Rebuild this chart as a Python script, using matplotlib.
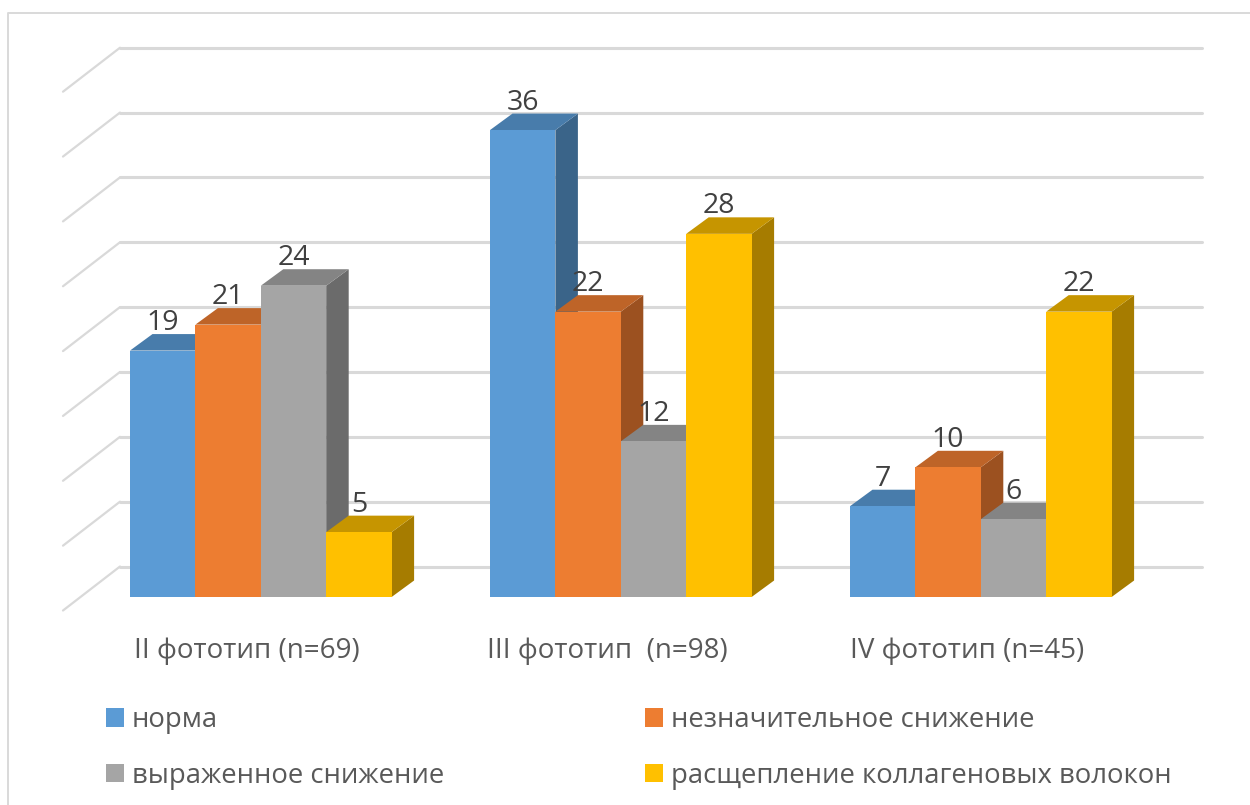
import matplotlib
matplotlib.use("Agg")
import matplotlib.pyplot as plt
from matplotlib.patches import Patch

plt.rcParams["font.family"] = ["Open Sans", "DejaVu Sans"]

# Data
categories = ["II фототип (n=69)", "III фототип  (n=98)", "IV фототип (n=45)"]
series = ["норма", "незначительное снижение", "выраженное снижение", "расщепление коллагеновых волокон"]
norma = [19, 36, 7]
neznach = [21, 22, 10]
vyrazh = [24, 12, 6]
rasshch = [5, 28, 22]
grid_values = [0, 5, 10, 15, 20, 25, 30, 35, 40]

colors_front = ["#5B9BD5", "#ED7D31", "#A5A5A5", "#FFC000"]
colors_top = ["#487CAB", "#BE6428", "#848484", "#C69500"]
colors_side = ["#3A6489", "#9C5120", "#6B6B6B", "#A67C00"]

W, H = 1250, 805
PX = 12.97  # pixels for one unit
BASE = 597  # pixel row of value 0, front of the bars

fig = plt.figure(figsize=(W / 100, H / 100), dpi=100)
ax = fig.add_axes([0, 0, 1, 1])
ax.set_xlim(0, W)
ax.set_ylim((BASE - H) / PX, BASE / PX)
ax.axis("off")

# frame, only left and top
top = (BASE - 13) / PX
ax.plot([8, 8, W], [-16.1, top, top], color="#d9d9d9", lw=1.4, zorder=1)

# walls: pseudo 3D gridlines
back_up = 30.5 / PX
front_down = 13.5 / PX
for g in grid_values:
    ax.plot([63, 120], [g - front_down, g + back_up], color="#d9d9d9", lw=1.6, solid_capstyle="round", zorder=2)
    ax.plot([120, 1202], [g + back_up, g + back_up], color="#d9d9d9", lw=2.2, solid_capstyle="round", zorder=2)

# bars
bar_w = 65.4
start = [130, 490, 850]
dx, dy = 22.5, 16.5 / PX
all_series = [norma, neznach, vyrazh, rasshch]
z = 3
for i, x0 in enumerate(start):
    for j, vals in enumerate(all_series):
        v = vals[i]
        l = x0 + j * bar_w
        r = l + bar_w
        ax.fill([r, r + dx, r + dx, r], [0, dy, v + dy, v], color=colors_side[j], lw=0, zorder=z)
        ax.fill([l, l + dx, r + dx, r], [v, v + dy, v + dy, v], color=colors_top[j], lw=0, zorder=z)
        ax.bar(l, v, width=bar_w, align="edge", color=colors_front[j], lw=0, zorder=z)
        z += 1

# value labels
for i, x0 in enumerate(start):
    for j, vals in enumerate(all_series):
        ax.text(x0 + j * bar_w + bar_w / 2, vals[i] + 2.12, str(vals[i]), ha="center", va="center",
                fontsize=20.5, color="#404040", zorder=50)

# category labels
for x0, c in zip(start, categories):
    ax.text(x0 + 2 * bar_w - 13.5, -4.2, c, ha="center", va="center", fontsize=20, color="#595959", zorder=50)

# legend
handles = [Patch(color=c, lw=0) for c in colors_front]
order = [0, 2, 1, 3]
ax.legend([handles[k] for k in order], [series[k] for k in order], ncols=2, frameon=False,
          loc="upper left", bbox_to_anchor=(106 / W, 1 - 706 / H), fontsize=19.8, labelcolor="#595959",
          handlelength=0.65, handleheight=0.65, handletextpad=0.29, columnspacing=7.3,
          labelspacing=1.0, borderpad=0, borderaxespad=0)

plt.savefig("out.png", dpi=100)
